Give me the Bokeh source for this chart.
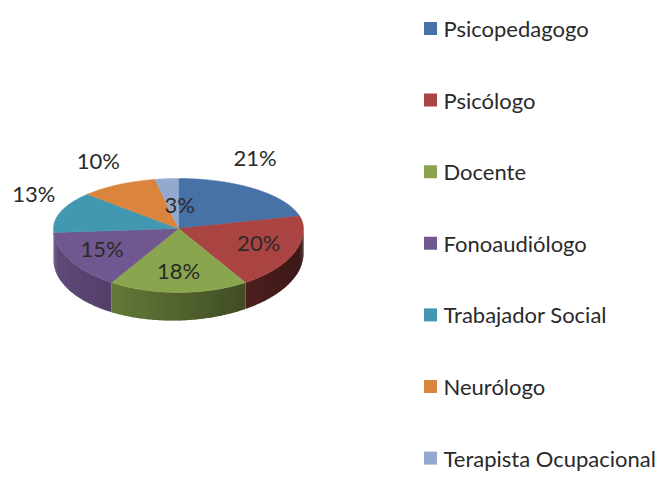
import math
from bokeh.plotting import figure
from bokeh.models import Range1d, ColumnDataSource
from bokeh.core.properties import value
from bokeh.embed import file_html
from bokeh.resources import INLINE

# ---- data ----
categories = ["Psicopedagogo", "Psicólogo", "Docente", "Fonoaudiólogo",
              "Trabajador Social", "Neurólogo", "Terapista Ocupacional"]
percents = [21, 20, 18, 15, 13, 10, 3]
colors = ["#4672a8", "#a94442", "#89a54e", "#71578f", "#4298b0", "#db843d", "#93a9d0"]

# ---- layout (picture pixel coordinates) ----
W, H = 656, 471
cx, cy = 178.0, 228.0
rx = 125.0
ry_back, ry_front = 50.0, 64.0
FONT = "Lato"
FS = "22px"
TXT = "#2a2a2a"

def ry(t):
    return ry_back if math.sin(t) > 0 else ry_front

def pt(deg):
    t = math.radians(deg)
    return cx + rx * math.cos(t), cy - ry(t) * math.sin(t)

def depth(deg):
    return 28.0 - 3.0 * math.cos(math.radians(deg))

def shade(hexc, f):
    r, g, b = int(hexc[1:3], 16), int(hexc[3:5], 16), int(hexc[5:7], 16)
    return "#%02x%02x%02x" % (min(255, int(r * f)), min(255, int(g * f)), min(255, int(b * f)))

p = figure(width=W, height=H, output_backend="svg", toolbar_location=None,
           x_range=Range1d(0, W), y_range=Range1d(H, 0),
           min_border=0)
p.axis.visible = False
p.grid.visible = False
p.outline_line_color = None
p.background_fill_color = "white"

total = float(sum(percents))
starts, ends = [], []
a = 90.0
for v in percents:
    starts.append(a)
    a -= 360.0 * v / total
    ends.append(a)

# side walls (front half only), drawn as overlapping strips for shading
sx, sy, sc = [], [], []
for i, (s, e) in enumerate(zip(starts, ends)):
    hi = min(s, 0.0)
    lo = max(e, -180.0)
    if hi <= lo:
        continue
    n = max(1, int(math.ceil((hi - lo) / 1.5)))
    for k in range(n):
        d1 = hi - (hi - lo) * k / n
        d2 = max(lo, hi - (hi - lo) * (k + 1) / n - 0.8)
        pts_top = [pt(d1 + (d2 - d1) * j / 3) for j in range(4)]
        xs = [q[0] for q in pts_top]
        ys = [q[1] for q in pts_top]
        bot = [(pt(d)[0], pt(d)[1] + depth(d)) for d in [d2 + (d1 - d2) * j / 3 for j in range(4)]]
        xs += [q[0] for q in bot]
        ys += [q[1] for q in bot]
        sx.append(xs)
        sy.append(ys)
        mid = math.radians((d1 + d2) / 2)
        f = 0.6 - 0.25 * math.cos(mid)
        sc.append(shade(colors[i], f))
p.patches(xs="xs", ys="ys", fill_color="c", line_color=None,
          source=ColumnDataSource(dict(xs=sx, ys=sy, c=sc)))

# top faces
tx, ty = [], []
for s, e in zip(starts, ends):
    n = max(2, int(math.ceil(abs(s - e))))
    xs, ys = [cx], [cy]
    for k in range(n + 1):
        x, y = pt(s + (e - s) * k / n)
        xs.append(x)
        ys.append(y)
    tx.append(xs)
    ty.append(ys)
p.patches(xs="xs", ys="ys", fill_color="c", line_color="c", line_width=0.5,
          source=ColumnDataSource(dict(xs=tx, ys=ty, c=colors)))

# percentage labels: (fx, fy) radial factors per slice
label_f = [(1.0, 1.8), (0.69, 0.6), (0.65, 0.66), (0.71, 0.61),
           (1.23, 2.07), (1.33, 1.55), (-0.1, 0.48)]
lx, ly, lt = [], [], []
for (s, e), v, (fx, fy) in zip(zip(starts, ends), percents, label_f):
    m = math.radians((s + e) / 2)
    lx.append(cx + fx * rx * math.cos(m))
    ly.append(cy - fy * ry(m) * math.sin(m))
    lt.append("%d%%" % v)
p.text(x="x", y="y", text="t", source=ColumnDataSource(dict(x=lx, y=ly, t=lt)),
       text_font=value(FONT), text_font_size=FS, text_color=TXT,
       text_align="center", text_baseline="middle")

# legend
leg_y0, leg_step = 28.0, 71.6
leg_y = [leg_y0 + leg_step * i for i in range(len(categories))]
p.scatter(x=[430] * len(categories), y=leg_y, marker="square", size=13,
          fill_color=colors, line_color=None)
p.text(x=[443] * len(categories), y=leg_y, text=categories,
       text_font=value(FONT), text_font_size=FS, text_color=TXT,
       text_align="left", text_baseline="middle")

open("out.html", "w").write(file_html(p, INLINE))
